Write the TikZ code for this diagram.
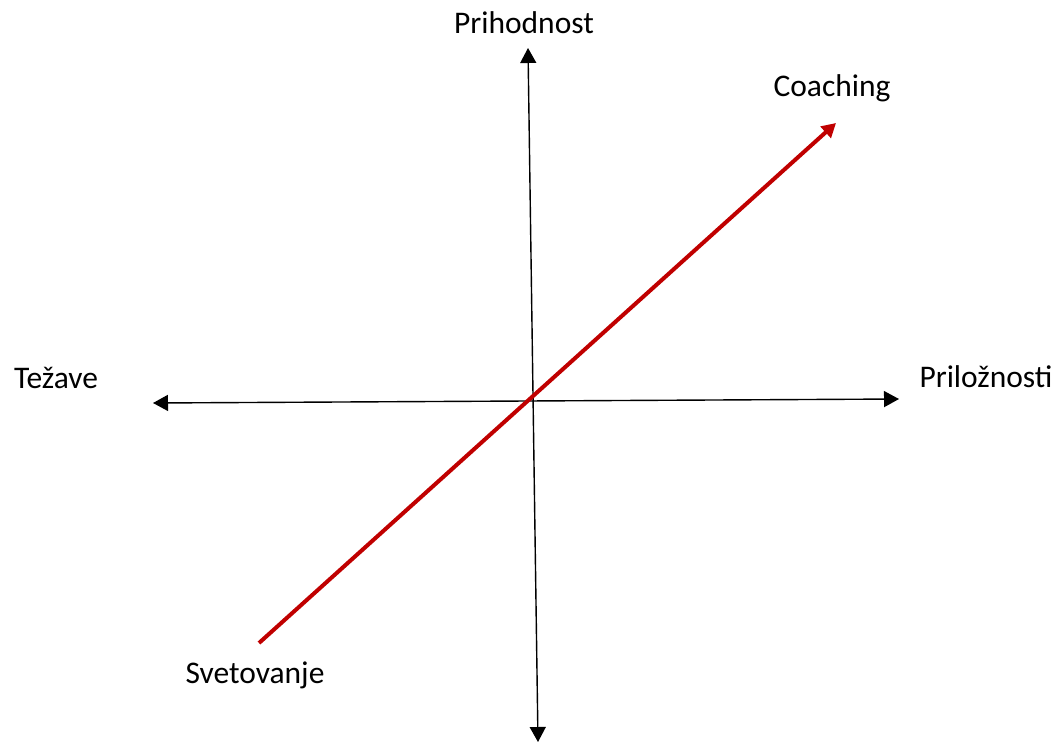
\documentclass[tikz,border=0pt]{standalone}
\usepackage{fontspec}
\setmainfont{Carlito}
\usepackage{xcolor}
\usepackage{tikz}
\usetikzlibrary{arrows.meta}
\definecolor{trendred}{RGB}{192,0,0}

\begin{document}
\begin{tikzpicture}[
  x=1pt,y=-1pt,
  axis/.style={line width=1.4pt,{Triangle[length=15pt,width=16pt]}-{Triangle[length=15pt,width=16pt]}},
  trend/.style={draw=trendred,line width=4pt,-{Triangle[length=14pt,width=15pt]}},
  lbl/.style={anchor=base,font=\fontsize{31.5}{38}\selectfont,inner sep=0pt}]
\useasboundingbox (0,0) rectangle (1056,742);
% axis ends
\coordinate (up) at (528,48);
\coordinate (down) at (538,742);
\coordinate (left) at (153,403);
\coordinate (right) at (899,399);
\coordinate (s) at (259,643);
\coordinate (c) at (836,123);
\draw[axis] (up)--(down);
\draw[axis] (left)--(right);
\draw[trend,line cap=butt] (s)--(c);
% labels
\node[lbl] (prih) at (524,33) {Prihodnost};
\node[lbl] (coach) at (832,96) {Coaching};
\node[lbl] (tez) at (56,388) {Težave};
\node[lbl] (pril) at (986,387) {Priložnosti};
\node[lbl] (svet) at (255,683) {Svetovanje};
\end{tikzpicture}
\end{document}
